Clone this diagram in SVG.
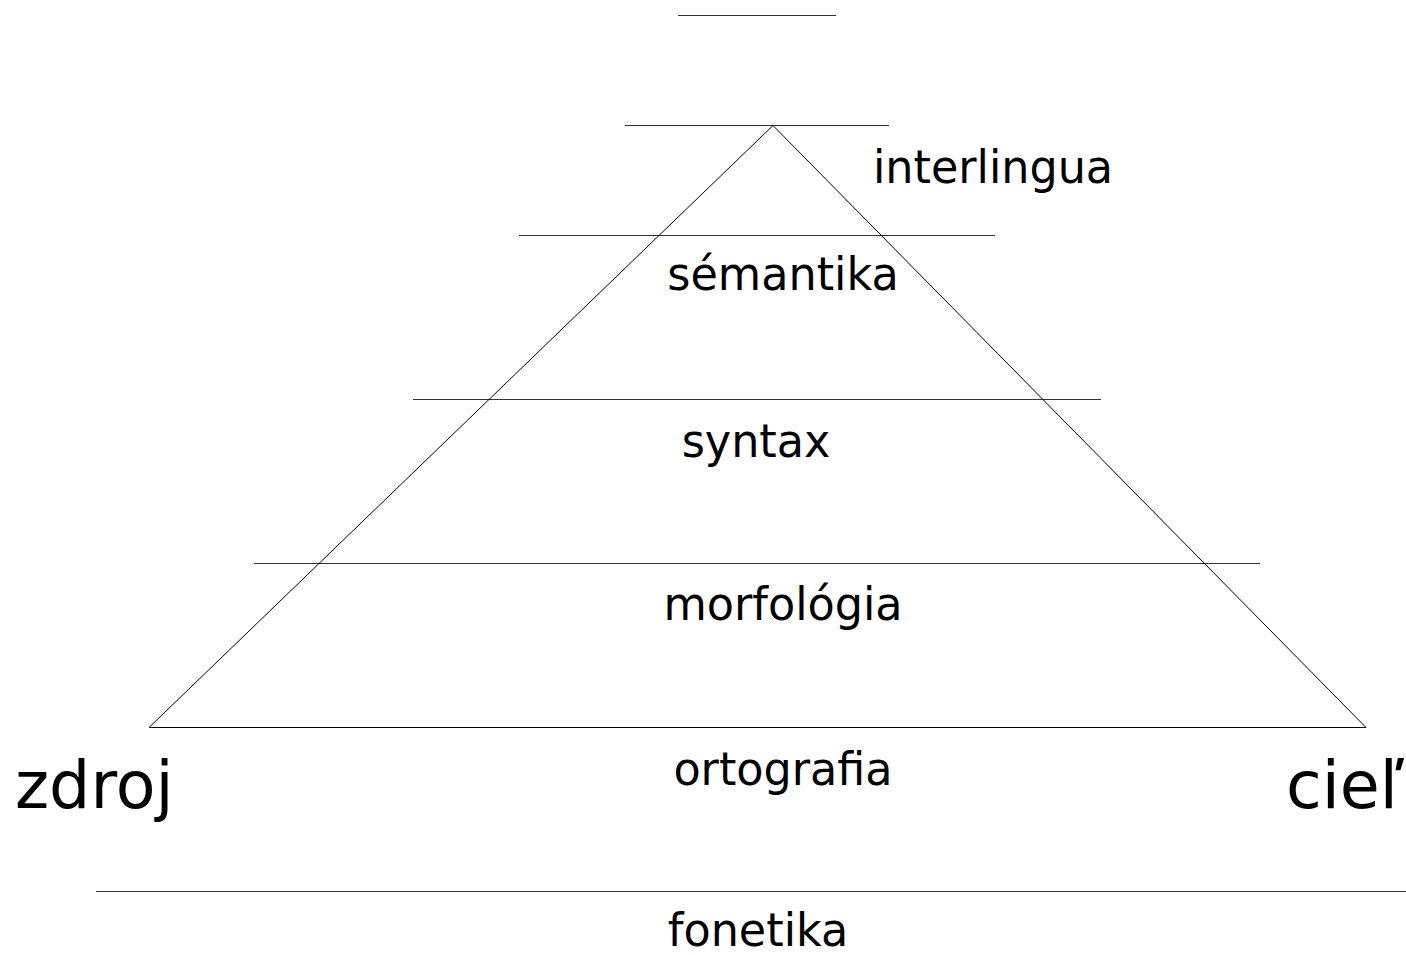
<svg xmlns="http://www.w3.org/2000/svg" width="1406" height="955" viewBox="0 0 1406 955">
<style>
.ln{stroke:#000;stroke-width:1;fill:none}
.lvl{stroke:#333;stroke-width:1}
.t{font-family:"DejaVu Sans",sans-serif;font-size:44.5px;fill:#000;text-anchor:middle}
.big{font-family:"DejaVu Sans",sans-serif;font-size:65px;fill:#000}
</style>
<rect width="1406" height="955" fill="#fff"/>
<g id="levels">
<line class="lvl" x1="678" y1="15.5" x2="836" y2="15.5"/>
<line class="lvl" x1="625" y1="125.5" x2="889" y2="125.5"/>
<line class="lvl" x1="519" y1="235.5" x2="995" y2="235.5"/>
<line class="lvl" x1="413" y1="399.5" x2="1101" y2="399.5"/>
<line class="lvl" x1="254" y1="563.5" x2="1260" y2="563.5"/>
<line class="lvl" x1="96" y1="891.5" x2="1406" y2="891.5"/>
</g>
<g id="pyramid">
<path class="ln" d="M149,727.5 L773,125.5 L1366,727.5 Z"/>
</g>
<g id="labels">
<text class="t" transform="translate(993,183) scale(1,1.04)">interlingua</text>
<text class="t" transform="translate(783,290) scale(1,1.04)">sémantika</text>
<text class="t" transform="translate(756,457) scale(1,1.04)">syntax</text>
<text class="t" transform="translate(783,620) scale(1,1.04)">morfológia</text>
<text class="t" transform="translate(783,785) scale(1,1.04)">ortografia</text>
<text class="t" transform="translate(758,946) scale(1,1.04)">fonetika</text>
</g>
<g id="zdroj"><text class="big" x="15" y="808">zdroj</text></g>
<g id="ciel"><text class="big" x="1286" y="808">cieľ</text></g>
</svg>
